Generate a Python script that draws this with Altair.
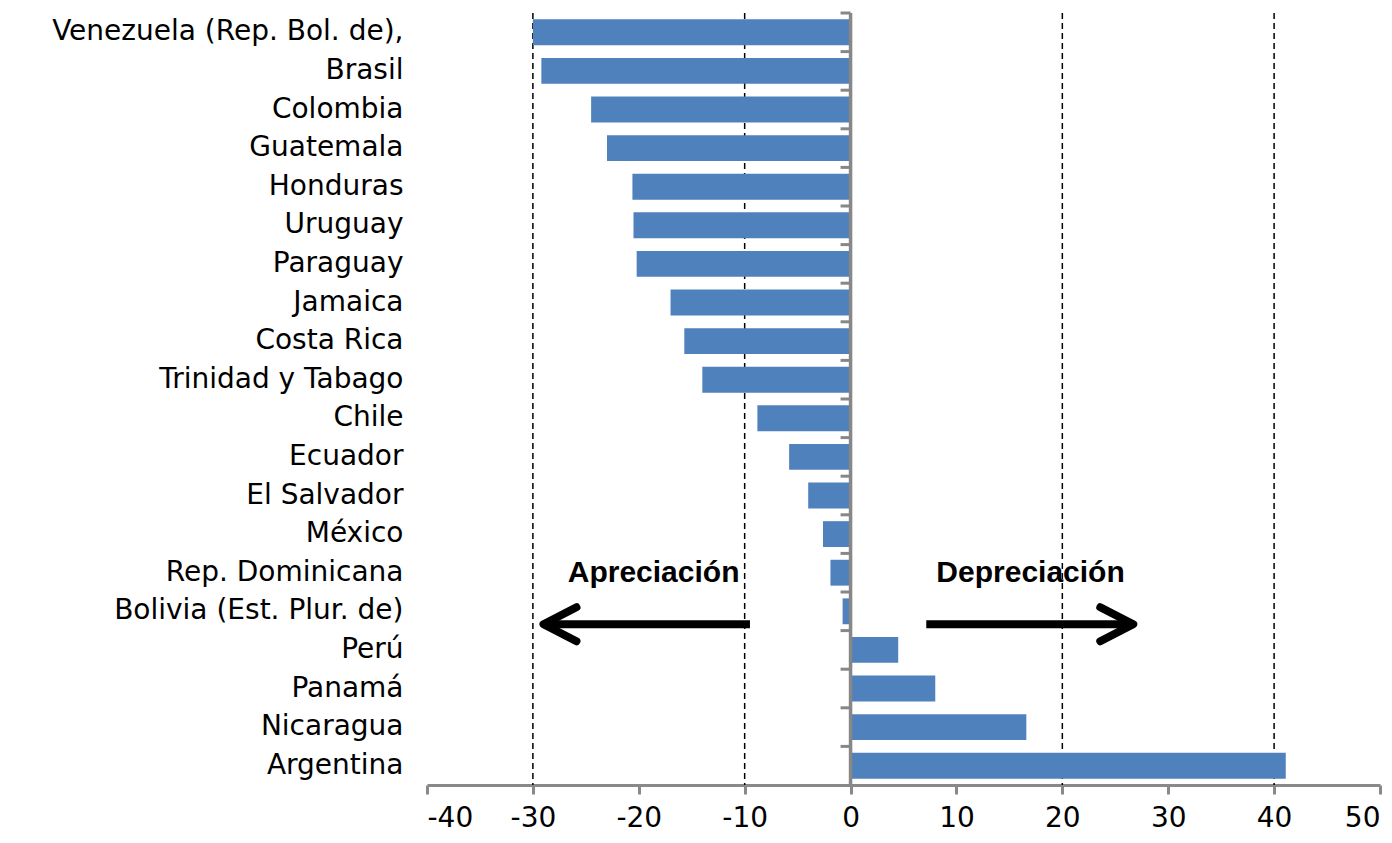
import altair as alt
import pandas as pd

countries = [
    "Venezuela (Rep. Bol. de),", "Brasil", "Colombia", "Guatemala", "Honduras",
    "Uruguay", "Paraguay", "Jamaica", "Costa Rica", "Trinidad y Tabago",
    "Chile", "Ecuador", "El Salvador", "México", "Rep. Dominicana",
    "Bolivia (Est. Plur. de)", "Perú", "Panamá", "Nicaragua", "Argentina",
]
values = [
    -30.0, -29.2, -24.5, -23.0, -20.6,
    -20.5, -20.2, -17.0, -15.7, -14.0,
    -8.8, -5.8, -4.0, -2.6, -1.9,
    -0.75, 4.5, 8.0, 16.6, 41.1,
]
x_ticks = [-40, -30, -20, -10, 0, 10, 20, 30, 40, 50]
dashed_lines = [-30, -10, 20, 40]

note_labels = ["Apreciación", "Depreciación"]
note_x = [-18.6, 17.0]
note_row = "Rep. Dominicana"

arrow_dir = ["left", "right"]
arrow_start = [-9.5, 7.15]
arrow_tip = [-29.0, 26.7]
arrow_row = "Bolivia (Est. Plur. de)"

BLUE = "#4F81BD"
GRAY = "#878787"

df = pd.DataFrame({"country": countries, "value": values})
grid_df = pd.DataFrame({"v": dashed_lines})
zero_df = pd.DataFrame({"v": [0]})
tick_df = pd.DataFrame({"country": countries, "v": [0] * len(countries)})
note_df = pd.DataFrame({"label": note_labels, "x": note_x, "country": [note_row] * 2})
arrow_df = pd.DataFrame({
    "dir": arrow_dir, "start": arrow_start, "tip": arrow_tip,
    "country": [arrow_row] * 2,
})

xscale = alt.Scale(domain=[-40, 50], nice=False, zero=False)
yscale = alt.Scale(domain=countries, paddingInner=0.33, paddingOuter=0.165)

grid = alt.Chart(grid_df).mark_rule(
    color="black", strokeWidth=1.5, strokeDash=[6, 4]
).encode(x=alt.X("v:Q", scale=xscale, title=None))

bars = alt.Chart(df).mark_bar(color=BLUE).encode(
    x=alt.X("value:Q", scale=xscale, title=None,
            axis=alt.Axis(values=x_ticks, labelExpr="'' + datum.value")),
    y=alt.Y("country:N", scale=yscale, title=None, sort=None),
)

zero_line = alt.Chart(zero_df).mark_rule(color=GRAY, strokeWidth=3.5).encode(
    x=alt.X("v:Q", scale=xscale, title=None)
)

# category-boundary ticks on the zero line (Excel style), pointing left
zero_ticks = alt.Chart(tick_df).mark_point(
    shape="M -2 -1.274 L 0 -1.274", size=100, filled=False, stroke=GRAY,
    strokeWidth=3, opacity=1,
).encode(
    x=alt.X("v:Q", scale=xscale, title=None),
    y=alt.Y("country:N", scale=yscale, title=None, sort=None, bandPosition=0),
)

notes = alt.Chart(note_df).mark_text(
    font="Liberation Sans", fontWeight="bold", fontSize=30,
    align="center", baseline="middle", color="black",
).encode(
    x=alt.X("x:Q", scale=xscale, title=None),
    y=alt.Y("country:N", scale=yscale, title=None, sort=None),
    text="label:N",
)

shafts = alt.Chart(arrow_df).mark_rule(color="black", strokeWidth=8).encode(
    x=alt.X("start:Q", scale=xscale, title=None),
    x2="tip:Q",
    y=alt.Y("country:N", scale=yscale, title=None, sort=None, bandPosition=1),
)

heads = alt.Chart(arrow_df).mark_point(
    size=1156, filled=False, stroke="black", strokeWidth=8, opacity=1,
    strokeCap="round", strokeJoin="round",
).encode(
    x=alt.X("tip:Q", scale=xscale, title=None),
    y=alt.Y("country:N", scale=yscale, title=None, sort=None, bandPosition=1),
    shape=alt.Shape("dir:N", legend=None, scale=alt.Scale(
        domain=["left", "right"],
        range=["M 1.94 -1 L 0 0 L 1.94 1", "M -1.94 -1 L 0 0 L -1.94 1"],
    )),
)

chart = alt.layer(grid, bars, zero_line, zero_ticks, notes, shafts, heads).properties(
    width=953,
    height=772,
    autosize=alt.AutoSizeParams(type="none"),
    padding={"left": 419, "top": 5, "right": 4, "bottom": 50},
).configure_view(stroke=None).configure_axis(
    labelFont="DejaVu Sans", labelFontSize=28, labelColor="black", grid=False,
).configure_axisY(
    domain=False, ticks=False, labelPadding=24, labelLimit=600,
).configure_axisX(
    domainColor="#898989", domainWidth=3, tickColor="#898989", tickWidth=3,
    tickSize=9, labelPadding=10,
)

chart.save("out.html", embed_options={"renderer": "svg", "actions": False})
